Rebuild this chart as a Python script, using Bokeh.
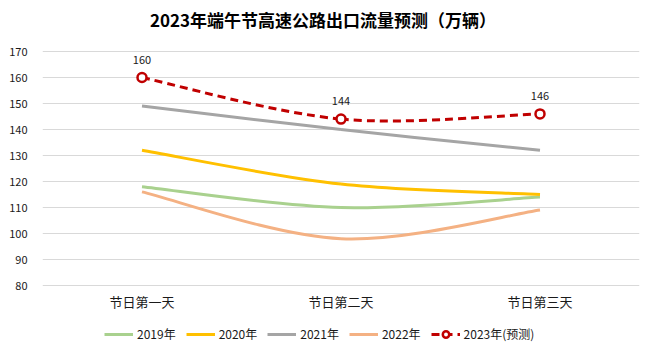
from bokeh.plotting import figure
from bokeh.models import Legend, LegendItem, FixedTicker, Range1d, ColumnDataSource
from bokeh.core.properties import value
from bokeh.embed import file_html
from bokeh.resources import INLINE

# ---- data ----
title_text = "2023年端午节高速公路出口流量预测（万辆）"
categories = ["节日第一天", "节日第二天", "节日第三天"]
s2019 = [118, 110, 114]
s2020 = [132, 119, 115]
s2021 = [149, 140, 132]
s2022 = [116, 98, 109]
s2023 = [160, 144, 146]
series_names = ["2019年", "2020年", "2021年", "2022年", "2023年(预测)"]
y_ticks = [80, 90, 100, 110, 120, 130, 140, 150, 160, 170]

colors = ["#A9D18E", "#FFC000", "#A5A5A5", "#F4B183", "#C00000"]
FONT = "Noto Sans CJK SC"

# layout: value axis 80..170 occupies pixel rows 51..285 of a 359px high frame
PX_PER_UNIT = 234.0 / (y_ticks[-1] - y_ticks[0])
y_lo = y_ticks[0] - 74 / PX_PER_UNIT
y_hi = y_ticks[-1] + 51 / PX_PER_UNIT

xs = [i + 0.5 for i in range(len(categories))]

p = figure(width=653, height=359, output_backend="svg", toolbar_location=None,
           x_range=Range1d(0, len(categories)), y_range=Range1d(y_lo, y_hi),
           x_axis_location=None,
           min_border_left=42, min_border_right=14, min_border_top=0, min_border_bottom=0)
p.outline_line_color = None
p.background_fill_color = "white"
p.border_fill_color = "white"

p.xgrid.grid_line_color = None
p.xgrid.visible = False
p.ygrid.ticker = FixedTicker(ticks=y_ticks)
p.ygrid.grid_line_color = "#D9D9D9"
p.ygrid.grid_line_width = 1

p.yaxis.ticker = FixedTicker(ticks=y_ticks)
p.yaxis.axis_line_color = None
p.yaxis.major_tick_line_color = None
p.yaxis.minor_tick_line_color = None
p.yaxis.major_label_text_font = FONT
p.yaxis.major_label_text_font_size = "11px"
p.yaxis.major_label_text_color = "#1A1A1A"
p.yaxis.major_label_standoff = 9

# title
p.text([len(categories) / 2], [y_ticks[-1]], text=[title_text], text_font=value(FONT),
       text_font_size="17px", text_font_style="bold", text_color="#000000",
       text_align="center", text_baseline="middle", x_offset=-18, y_offset=-32)

# category labels under the lowest gridline
p.text(xs, [y_ticks[0]] * len(xs), text=categories, text_font=value(FONT),
       text_font_size="13px", text_color="#1A1A1A", text_align="center",
       text_baseline="middle", y_offset=16)


def smooth_segments(x, y):
    n = len(x)
    X0, Y0, X1, Y1, CX0, CY0, CX1, CY1 = [], [], [], [], [], [], [], []
    for i in range(n - 1):
        im1 = max(i - 1, 0)
        ip2 = min(i + 2, n - 1)
        X0.append(x[i]); Y0.append(y[i])
        X1.append(x[i + 1]); Y1.append(y[i + 1])
        CX0.append(x[i] + (x[i + 1] - x[im1]) / 6.0)
        CY0.append(y[i] + (y[i + 1] - y[im1]) / 6.0)
        CX1.append(x[i + 1] - (x[ip2] - x[i]) / 6.0)
        CY1.append(y[i + 1] - (y[ip2] - y[i]) / 6.0)
    return dict(x0=X0, y0=Y0, x1=X1, y1=Y1, cx0=CX0, cy0=CY0, cx1=CX1, cy1=CY1)


items = []
all_series = [s2019, s2020, s2021, s2022, s2023]
for k, (vals, name, col) in enumerate(zip(all_series, series_names, colors)):
    src = ColumnDataSource(smooth_segments(xs, vals))
    if k < 4:
        r = p.bezier(x0="x0", y0="y0", x1="x1", y1="y1", cx0="cx0", cy0="cy0",
                     cx1="cx1", cy1="cy1", source=src, line_color=col, line_width=3)
        items.append(LegendItem(label=name, renderers=[r]))
    else:
        r = p.bezier(x0="x0", y0="y0", x1="x1", y1="y1", cx0="cx0", cy0="cy0",
                     cx1="cx1", cy1="cy1", source=src, line_color=col, line_width=3,
                     line_dash="8 5")
        m = p.scatter(xs, vals, marker="circle", size=9, fill_color="white",
                      line_color=col, line_width=2.5)
        p.text(xs, vals, text=[str(v) for v in vals], text_font=value(FONT),
               text_font_size="11px", text_color="#1A1A1A", text_align="center",
               text_baseline="middle", y_offset=-18)
        items.append(LegendItem(label=name, renderers=[r, m]))

legend = Legend(items=items, orientation="horizontal", location=(62, 17))
legend.label_text_font = FONT
legend.label_text_font_size = "12px"
legend.label_text_color = "#1A1A1A"
legend.glyph_width = 29
legend.glyph_height = 16
legend.label_standoff = 4
legend.spacing = 10
legend.padding = 4
legend.margin = 0
legend.border_line_color = None
legend.background_fill_alpha = 0
p.add_layout(legend)

open("out.html", "w").write(file_html(p, INLINE))
